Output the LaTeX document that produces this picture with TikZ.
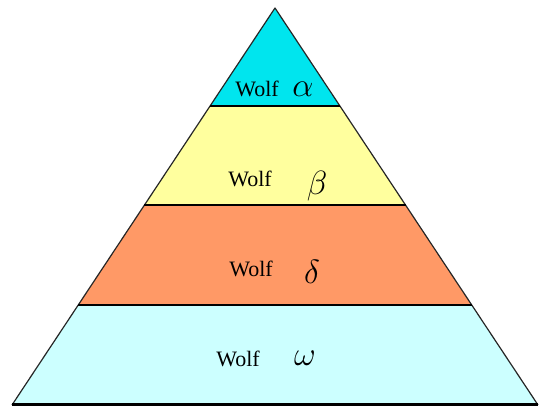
\documentclass[tikz,border=0pt]{standalone}
\usepackage{fontspec}
\setmainfont{Liberation Serif}
\usetikzlibrary{calc}
\definecolor{alphacyan}{RGB}{0,229,238}
\definecolor{betayellow}{RGB}{255,255,158}
\definecolor{deltaorange}{RGB}{255,153,102}
\definecolor{omegacyan}{RGB}{204,255,255}

\begin{document}
\begin{tikzpicture}[x=1pt,y=-1pt,
                    edge/.style={draw=black!85,line width=1.2pt,line join=round},
                    sep/.style={draw=black,line width=2pt},
                    wolf/.style={font=\fontsize{22}{24}\selectfont,anchor=base},
                    greek/.style={font=\Huge,scale=1.35,anchor=base}]
  \useasboundingbox (0,0) rectangle (550,417);

  \coordinate (apex) at (275,8);
  \coordinate (bl) at (12,405);
  \coordinate (br) at (538,405);

  % band boundaries
  \coordinate (l1) at ($(apex)!0.2469!(bl)$);
  \coordinate (r1) at ($(apex)!0.2469!(br)$);
  \coordinate (l2) at ($(apex)!0.4962!(bl)$);
  \coordinate (r2) at ($(apex)!0.4962!(br)$);
  \coordinate (l3) at ($(apex)!0.7481!(bl)$);
  \coordinate (r3) at ($(apex)!0.7481!(br)$);

  \fill[alphacyan] (apex) -- (r1) -- (l1) -- cycle;
  \fill[betayellow] (l1) -- (r1) -- (r2) -- (l2) -- cycle;
  \fill[deltaorange] (l2) -- (r2) -- (r3) -- (l3) -- cycle;
  \fill[omegacyan] (l3) -- (r3) -- (br) -- (bl) -- cycle;

  \path[edge] (bl) -- (apex) -- (br);
  \path[sep] (l1) -- (r1);
  \path[sep] (l2) -- (r2);
  \path[sep] (l3) -- (r3);
  \path[draw=black,line width=3pt] (bl) -- (br);

  \node[wolf] (wa) at (257,97) {Wolf};
  \node[greek] (ga) at (303,97) {$\alpha$};
  \node[wolf] (wb) at (250,187) {Wolf};
  \node[greek] (gb) at (317,195) {$\beta$};
  \node[wolf] (wd) at (251,277) {Wolf};
  \node[greek] (gd) at (312,284) {$\delta$};
  \node[wolf] (wo) at (238,367) {Wolf};
  \node[greek] (go) at (305,366) {$\omega$};
\end{tikzpicture}
\end{document}
